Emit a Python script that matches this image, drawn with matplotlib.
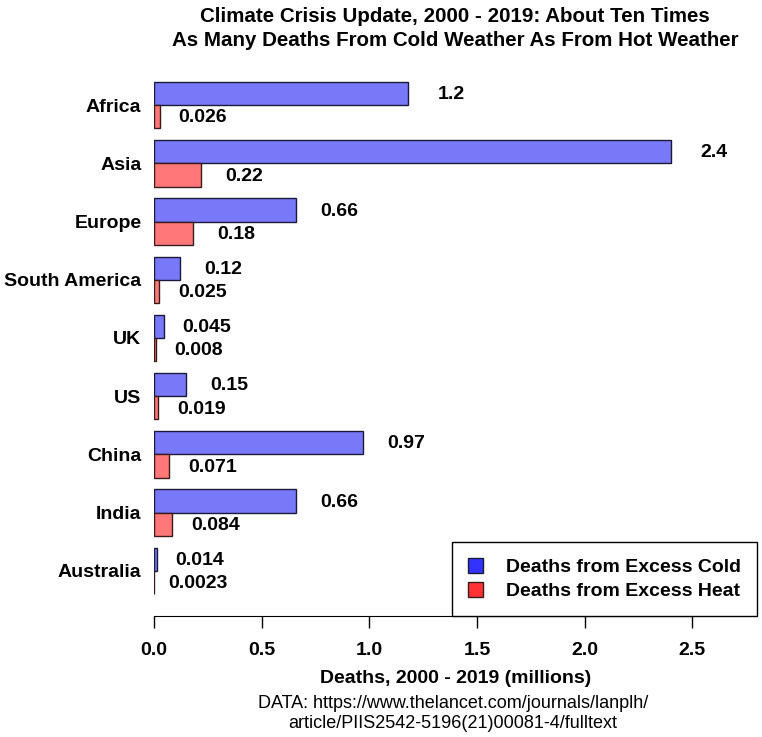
import numpy as np
import matplotlib
matplotlib.use("Agg")
import matplotlib.pyplot as plt
from matplotlib.patches import Patch

regions = ["Africa", "Asia", "Europe", "South America", "UK", "US",
           "China", "India", "Australia"]
cold = [1.18, 2.4, 0.66, 0.12, 0.045, 0.15, 0.97, 0.66, 0.014]
heat = [0.026, 0.22, 0.18, 0.025, 0.008, 0.019, 0.071, 0.084, 0.0023]
cold_txt = ["1.2", "2.4", "0.66", "0.12", "0.045", "0.15", "0.97", "0.66", "0.014"]
heat_txt = ["0.026", "0.22", "0.18", "0.025", "0.008", "0.019", "0.071", "0.084", "0.0023"]
xticks = [0.0, 0.5, 1.0, 1.5, 2.0, 2.5]

plt.rcParams['font.family'] = ['Liberation Sans', 'DejaVu Sans']

fig = plt.figure(figsize=(7.62, 7.37), dpi=100)
ax = fig.add_axes([154 / 762, 1 - 616 / 737, (757 - 154) / 762, (616 - 60) / 737])

n = len(regions)
# first region at the top
ypos = (n - 1 - np.arange(n)) * 2.5
ax.barh(ypos + 0.5, cold, height=1.0, color="#7878f8", edgecolor="#1a1a3a", lw=1)
ax.barh(ypos - 0.5, heat, height=1.0, color="#ff7878", edgecolor="#3a1a1a", lw=1)

for i in range(n):
    ax.text(cold[i] + 0.2, ypos[i] + 0.45, cold_txt[i], ha="center", va="center",
            fontsize=14, fontweight="bold")
    ax.text(heat[i] + 0.2, ypos[i] - 0.55, heat_txt[i], ha="center", va="center",
            fontsize=14, fontweight="bold")

ax.set_xlim(0, 2.80)
ax.set_ylim(-1.94, ypos[0] + 1.94)
ax.set_yticks(ypos)
ax.set_yticklabels(regions, fontsize=14, fontweight="bold")
ax.tick_params(axis="y", length=0, pad=9)
ax.set_xticks(xticks)
ax.set_xticklabels([f"{t:.1f}" for t in xticks], fontsize=14, fontweight="bold")
ax.tick_params(axis="x", length=8.5, width=1, pad=10, direction="out")
for s in ["top", "right", "left"]:
    ax.spines[s].set_visible(False)
ax.spines["bottom"].set_bounds(0, 2.5)
ax.set_xlabel("Deaths, 2000 - 2019 (millions)", fontsize=14, fontweight="bold", labelpad=8)

handles = [Patch(facecolor="#3333ff", edgecolor="#1a1a3a", label="Deaths from Excess Cold"),
           Patch(facecolor="#ff3333", edgecolor="#3a1a1a", label="Deaths from Excess Heat")]
leg = ax.legend(handles=handles, loc="lower right", borderaxespad=0, fancybox=False,
                prop={"size": 14, "weight": "bold"}, handlelength=0.8, handleheight=0.8,
                handletextpad=1.2, labelspacing=0.32, borderpad=0.8, framealpha=1)
leg.get_frame().set_edgecolor("black")
leg.get_frame().set_linewidth(1)

fig.text(455 / 762, 1 - 17 / 737, "Climate Crisis Update, 2000 - 2019: About Ten Times",
         ha="center", va="center", fontsize=14.8, fontweight="bold")
fig.text(455 / 762, 1 - 41 / 737, "As Many Deaths From Cold Weather As From Hot Weather",
         ha="center", va="center", fontsize=14.8, fontweight="bold")
fig.text(453 / 762, 1 - 703 / 737, "DATA: https://www.thelancet.com/journals/lanplh/",
         ha="center", va="center", fontsize=13)
fig.text(453 / 762, 1 - 723 / 737, "article/PIIS2542-5196(21)00081-4/fulltext",
         ha="center", va="center", fontsize=13)

fig.savefig("out.png", dpi=100)
